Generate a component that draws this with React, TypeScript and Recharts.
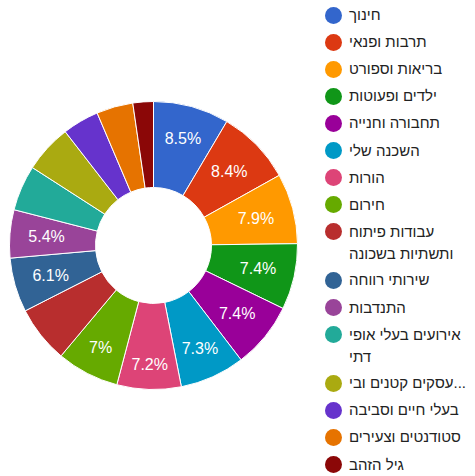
import React from "react";
import { PieChart, Pie, Cell, Legend } from "recharts";

const categories = [
  "חינוך",
  "תרבות ופנאי",
  "בריאות וספורט",
  "ילדים ופעוטות",
  "תחבורה וחנייה",
  "השכנה שלי",
  "הורות",
  "חירום",
  "עבודות פיתוח\nותשתיות בשכונה",
  "שירותי רווחה",
  "התנדבות",
  "אירועים בעלי אופי\nדתי",
  "עסקים קטנים ובי...",
  "בעלי חיים וסביבה",
  "סטודנטים וצעירים",
  "גיל הזהב",
];

const shares = [8.5, 8.4, 7.9, 7.4, 7.4, 7.3, 7.2, 7.0, 6.4, 6.1, 5.4, 5.1, 5.4, 4.1, 4.1, 2.3];

const colors = [
  "#3366cc", "#dc3912", "#ff9900", "#109618", "#990099", "#0099c6", "#dd4477", "#66aa00",
  "#b82e2e", "#316395", "#994499", "#22aa99", "#aaaa11", "#6633cc", "#e67300", "#8b0707",
];

// slices whose percentage label is drawn (others too narrow in the original)
const labeledCategories = [0, 1, 2, 3, 4, 5, 6, 7, 9, 10];

const data = categories.map((name, i) => ({ name, value: shares[i] }));

const FONT = "'Liberation Sans', Arial, sans-serif";
const RADIAN = Math.PI / 180;

const formatPct = (p: number) => {
  const s = (p * 100).toFixed(1);
  return (s.endsWith(".0") ? s.slice(0, -2) : s) + "%";
};

const textWidth = (s: string) =>
  s.split("").reduce((w, c) => w + (c === "." ? 4.45 : c === "%" ? 14.2 : 8.9), 0);

const renderLabel = (props: any) => {
  const { cx, cy, midAngle, percent, index } = props;
  if (!labeledCategories.includes(index)) return null;
  const txt = formatPct(percent);
  const c = Math.cos(-midAngle * RADIAN);
  const s = Math.sin(-midAngle * RADIAN);
  // keep the label's text box (taller above the digits than below) just inside an outer limit
  const halfW = textWidth(txt) / 2;
  const ext = s < 0 ? 10.5 : 6.5;
  const limit = 126.3;
  const r = limit - (halfW * Math.abs(c) + ext * Math.abs(s));
  const x = cx + r * c;
  const y = cy + r * s;
  return (
    <text
      x={x}
      y={y}
      fill="#ffffff"
      textAnchor="middle"
      dominantBaseline="central"
      fontSize={16}
      fontFamily={FONT}
    >
      {txt}
    </text>
  );
};

const renderLegend = () => {
  const step = 27.1;
  const extra = 21.5;
  let extraLines = 0;
  return (
    <div style={{ position: "relative", width: 150, height: 476 }}>
      {categories.map((name, i) => {
        const center = 15 + step * i + extra * extraLines;
        extraLines += name.split("\n").length - 1;
        return (
          <div key={name} style={{ position: "absolute", left: 0, top: center - 11 }}>
            <div
              style={{
                position: "absolute",
                left: 0,
                top: 2.5,
                width: 17,
                height: 17,
                borderRadius: "50%",
                background: colors[i],
              }}
            />
            <div
              style={{
                position: "absolute",
                left: 24,
                top: 0,
                whiteSpace: "pre",
                lineHeight: "22px",
                fontSize: 15,
                fontFamily: FONT,
                color: "#222222",
              }}
            >
              {name}
            </div>
          </div>
        );
      })}
    </div>
  );
};

export default function App() {
  return (
    <div style={{ position: "absolute", left: 0, top: 0, width: 475, height: 476, background: "#ffffff" }}>
      <PieChart width={475} height={476} margin={{ top: 0, right: 0, bottom: 0, left: 0 }}>
        <Pie
          data={data}
          dataKey="value"
          nameKey="name"
          cx={153.5}
          cy={245.5}
          innerRadius={58}
          outerRadius={144}
          startAngle={90}
          endAngle={-270}
          stroke="#ffffff"
          strokeWidth={1}
          label={renderLabel}
          labelLine={false}
          isAnimationActive={false}
        >
          {data.map((d, i) => (
            <Cell key={d.name} fill={colors[i]} />
          ))}
        </Pie>
        <Legend
          content={renderLegend}
          wrapperStyle={{ position: "absolute", left: 325, top: 0, width: 150, height: 476 }}
        />
      </PieChart>
    </div>
  );
}
